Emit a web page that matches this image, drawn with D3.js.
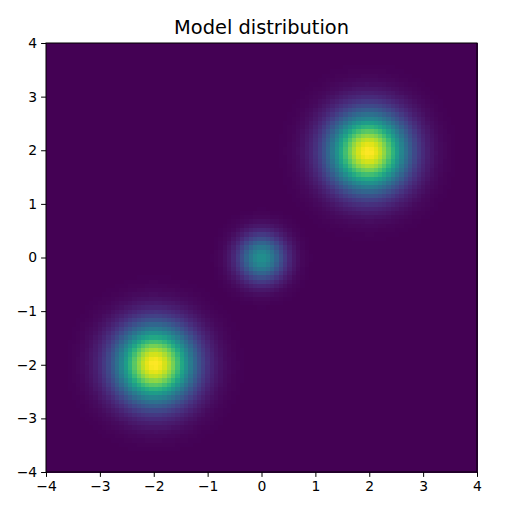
<!DOCTYPE html>
<html>
<head>
<meta charset="utf-8">
<script src="https://cdn.jsdelivr.net/npm/d3@7"></script>
<style>
  body { margin: 0; background: #fff; }
  svg { font-family: "DejaVu Sans", sans-serif; }
</style>
</head>
<body>
<svg id="chart" width="507" height="512"></svg>
<script>
// mixture components
var centersX = [-2, 0, 2];
var centersY = [-2, 0, 2];
var sigmas = [0.5, 0.3, 0.5];
var peaks = [1.0, 0.5, 1.0];

var gridSize = 100;
var xTicks = [-4, -3, -2, -1, 0, 1, 2, 3, 4];
var yTicks = [-4, -3, -2, -1, 0, 1, 2, 3, 4];

var margin = {left: 46, top: 43, right: 30, bottom: 40};
var width = 477 - margin.left;
var height = 472 - margin.top;

var svg = d3.select('#chart');
var g = svg.append('g').attr('transform', 'translate(' + margin.left + ',' + margin.top + ')');

var x = d3.scaleLinear().domain([-4, 4]).range([0, width]);
var y = d3.scaleLinear().domain([-4, 4]).range([height, 0]);

// density grid
var cells = [];
var step = 8 / (gridSize - 1);
for (var j = 0; j < gridSize; j++) {
  for (var i = 0; i < gridSize; i++) {
    var px = -4 + i * step, py = -4 + j * step;
    var v = 0;
    for (var k = 0; k < centersX.length; k++) {
      var dx = px - centersX[k], dy = py - centersY[k];
      v += peaks[k] * Math.exp(-(dx * dx + dy * dy) / (2 * sigmas[k] * sigmas[k]));
    }
    cells.push({i: i, j: j, v: v});
  }
}

var color = d3.scaleSequential(d3.interpolateViridis)
  .domain(d3.extent(cells, function(d) { return d.v; }));

var cw = 8 / gridSize;
g.append('g')
  .attr('shape-rendering', 'crispEdges')
  .selectAll('rect')
  .data(cells)
  .enter()
  .append('rect')
  .attr('x', function(d) { return x(-4 + d.i * cw); })
  .attr('y', function(d) { return y(-4 + (d.j + 1) * cw); })
  .attr('width', x(cw) - x(0) + 0.6)
  .attr('height', y(0) - y(cw) + 0.6)
  .attr('fill', function(d) { return color(d.v); });

var fmt = function(d) { return d < 0 ? '\u2212' + Math.abs(d) : String(d); };

var xAxis = g.append('g')
  .attr('transform', 'translate(0,' + height + ')')
  .call(d3.axisBottom(x).tickValues(xTicks).tickFormat(fmt).tickSize(4.9).tickPadding(4));
var yAxis = g.append('g')
  .call(d3.axisLeft(y).tickValues(yTicks).tickFormat(fmt).tickSize(4.9).tickPadding(4));

[xAxis, yAxis].forEach(function(a) {
  a.selectAll('text').attr('font-size', '13.9px').attr('fill', '#000').attr('font-family', '"DejaVu Sans", sans-serif');
  a.selectAll('line').attr('stroke', '#000').attr('stroke-width', 1);
  a.select('.domain').remove();
});

// frame
g.append('rect')
  .attr('width', width).attr('height', height)
  .attr('fill', 'none').attr('stroke', '#000').attr('stroke-width', 1);

svg.append('text')
  .attr('x', margin.left + width / 2)
  .attr('y', 33.5)
  .attr('text-anchor', 'middle')
  .attr('font-size', '19.4px')
  .attr('fill', '#000')
  .text('Model distribution');
</script>
</body>
</html>
